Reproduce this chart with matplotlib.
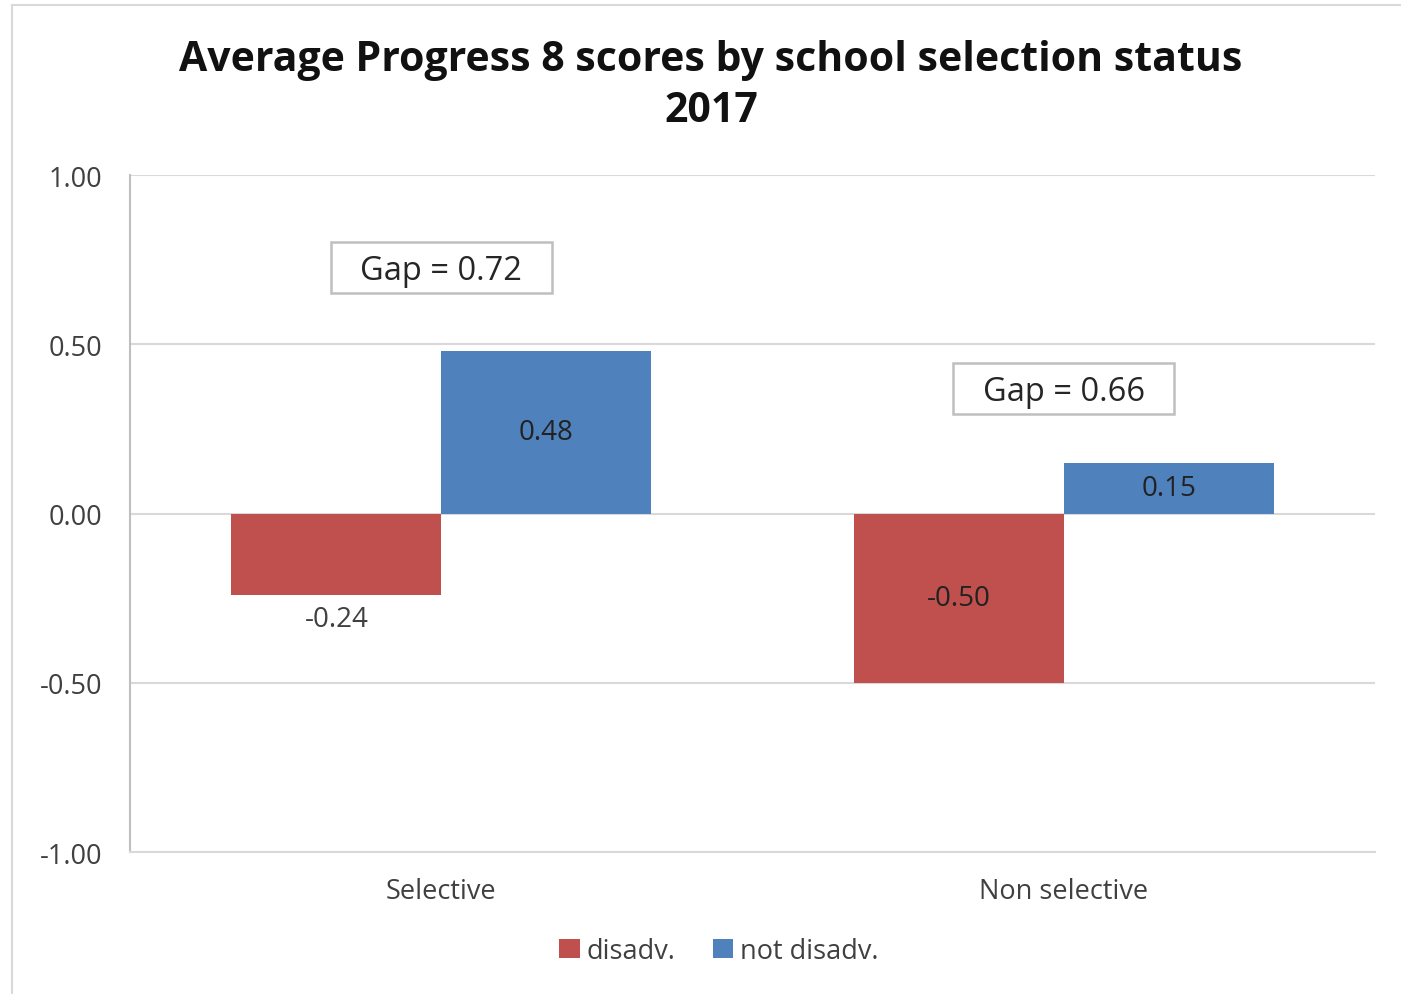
import matplotlib.pyplot as plt
import numpy as np
from matplotlib.lines import Line2D
from matplotlib.patches import Rectangle

# Data
categories = ["Selective", "Non selective"]
disadv = [-0.24, -0.50]
not_disadv = [0.48, 0.15]
gap_labels = ["Gap = 0.72", "Gap = 0.66"]
gap_y = [0.727, 0.369]

plt.rcParams['font.family'] = ['Open Sans', 'DejaVu Sans']

W, H = 1401, 995
fig = plt.figure(figsize=(W / 100, H / 100), dpi=100)
# outer chart frame (only left and top edges are visible in the crop)
fig.add_artist(Line2D([12 / W, 12 / W], [0, 1 - 6 / H], transform=fig.transFigure,
                      color="#d9d9d9", lw=1.5))
fig.add_artist(Line2D([12 / W, 1], [1 - 6 / H, 1 - 6 / H], transform=fig.transFigure,
                      color="#d9d9d9", lw=1.5))

ax = fig.add_axes([130 / W, 1 - 853 / H, 1245 / W, 677 / H])

x = np.arange(len(categories))
w = 0.337
red = "#C0504D"
blue = "#4F81BD"
b1 = ax.bar(x - w / 2, disadv, w, color=red, label="disadv.")
b2 = ax.bar(x + w / 2, not_disadv, w, color=blue, label="not disadv.")

# value labels
ax.text(x[0] - w / 2, disadv[0] - 0.03, f"{disadv[0]:.2f}", ha="center", va="top",
        fontsize=20, color="#404040")
ax.text(x[1] - w / 2, disadv[1] / 2, f"{disadv[1]:.2f}", ha="center", va="center",
        fontsize=20, color="#222222")
for xi, v in zip(x, not_disadv):
    ax.text(xi + w / 2, v / 2, f"{v:.2f}", ha="center", va="center",
            fontsize=20, color="#222222")

# gap annotation boxes
bw, bh = 0.355, 0.151
for xi, lab, yy in zip(x, gap_labels, gap_y):
    ax.add_patch(Rectangle((xi - bw / 2, yy - bh / 2), bw, bh, facecolor="white",
                           edgecolor="#bfbfbf", lw=1.8, zorder=3))
    ax.text(xi, yy - 0.008, lab, ha="center", va="center", fontsize=23.5, color="#262626",
            zorder=4)

ticks = [-1.0, -0.5, 0.0, 0.5, 1.0]
ax.set_xlim(-0.5, 1.5)
ax.set_ylim(-1.0, 1.0)
ax.set_yticks(ticks)
ax.set_yticklabels([f"{t:.2f}" for t in ticks])
ax.yaxis.grid(True, color="#d9d9d9", linewidth=1.5)
ax.set_axisbelow(True)
ax.set_xticks(x)
ax.set_xticklabels(categories)
ax.tick_params(axis="both", length=0, labelcolor="#404040")
ax.tick_params(axis="y", labelsize=19.5, pad=20)
ax.tick_params(axis="x", labelsize=19.5, pad=18)
for s in ["top", "right"]:
    ax.spines[s].set_visible(False)
ax.spines["bottom"].set_color("#d9d9d9")
ax.spines["bottom"].set_linewidth(1.5)
ax.spines["left"].set_color("#bfbfbf")
ax.spines["left"].set_linewidth(1.5)

fig.text(711 / W, 1 - 86 / H, "Average Progress 8 scores by school selection status\n2017",
         ha="center", va="center", fontsize=29.5, fontweight="bold", color="#111111",
         linespacing=1.32)

fig.legend(handles=[b1, b2], loc="center", bbox_to_anchor=(719 / W, 1 - 952 / H),
           ncol=2, frameon=False, fontsize=19.5, handlelength=0.75, handleheight=0.75,
           handletextpad=0.25, columnspacing=1.4, labelcolor="#404040")

fig.savefig("out.png", dpi=100)
